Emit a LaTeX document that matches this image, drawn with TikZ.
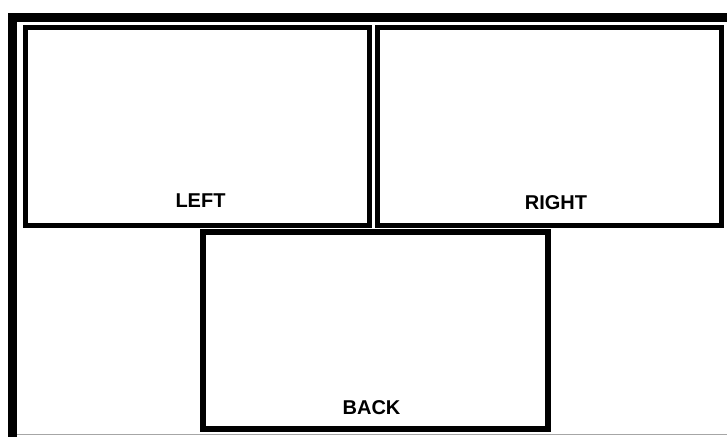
\documentclass[tikz,border=0pt]{standalone}
\usepackage{fontspec}
\setmainfont{Liberation Sans}
\usepackage{tikz}

\tikzset{
  panel/.style={draw, line width=#1, inner sep=0pt},
  panel/.default=5pt,
  tag/.style={inner sep=0pt, font=\fontsize{20}{24}\selectfont\bfseries}
}

\begin{document}
\begin{tikzpicture}[x=1pt,y=-1pt]
    \useasboundingbox (0,0) rectangle (727,436);
    \clip (0,0) rectangle (727,436);
    \fill[white] (0,0) rectangle (727,436);
    % outer frame, only top and left in view
    \draw[line width=8.5pt] (12.3,460)--(12.3,17.3)--(760,17.3);
    \draw[gray!70] (17,434.5)--(727,434.5);
    % the three panels
    \node[panel, minimum width=344pt, minimum height=198pt] (left) at (197.5,126.5) {};
    \node[panel, minimum width=344pt, minimum height=198pt] (right) at (549.5,126.5) {};
    \node[panel=6pt, minimum width=345pt, minimum height=197pt] (back) at (375.5,330.5) {};
    \node[tag] (lefttag) at (200.5,200.5) {LEFT};
    \node[tag] (righttag) at (556,202.5) {RIGHT};
    \node[tag] (backtag) at (371.5,407.5) {BACK};
\end{tikzpicture}
\end{document}
